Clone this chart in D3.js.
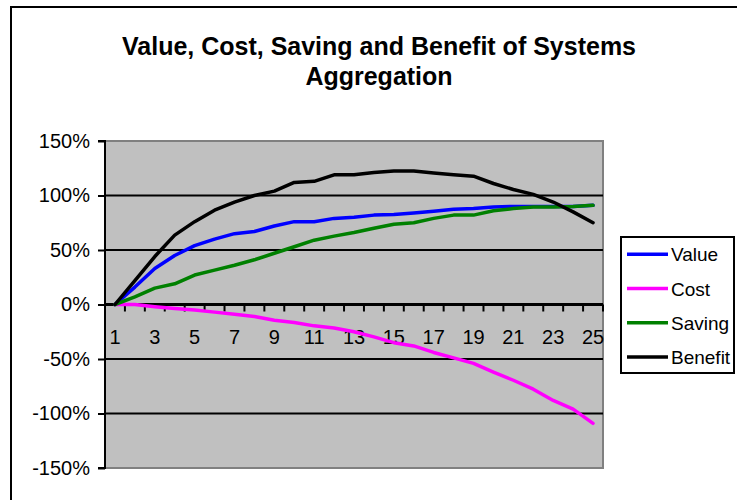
<!DOCTYPE html>
<html>
<head>
<meta charset="utf-8">
<script src="https://cdn.jsdelivr.net/npm/d3@7"></script>
<style>
  body { margin: 0; background: #fff; }
  svg { display: block; font-family: Arial, "Liberation Sans", sans-serif; }
</style>
</head>
<body>
<div id="chart"></div>
<script>
// data (fractions, 1.0 = 100%)
const periods = d3.range(1, 26);
const valueSeries = [0, 0.16, 0.33, 0.45, 0.54, 0.60, 0.65, 0.67, 0.72, 0.76, 0.76, 0.79, 0.80, 0.82, 0.825, 0.84, 0.856, 0.874, 0.88, 0.895, 0.90, 0.90, 0.90, 0.90, 0.91];
const costSeries = [0, 0, -0.02, -0.037, -0.05, -0.07, -0.09, -0.11, -0.144, -0.165, -0.196, -0.215, -0.25, -0.297, -0.35, -0.38, -0.44, -0.49, -0.54, -0.62, -0.695, -0.777, -0.88, -0.96, -1.09];
const savingSeries = [0, 0.07, 0.15, 0.19, 0.27, 0.315, 0.36, 0.41, 0.47, 0.53, 0.59, 0.627, 0.66, 0.70, 0.737, 0.75, 0.79, 0.82, 0.82, 0.86, 0.88, 0.895, 0.895, 0.90, 0.91];
const benefitSeries = [0, 0.22, 0.44, 0.636, 0.76, 0.865, 0.94, 1.00, 1.04, 1.12, 1.13, 1.19, 1.19, 1.21, 1.225, 1.225, 1.207, 1.19, 1.177, 1.11, 1.055, 1.01, 0.94, 0.85, 0.75];
const yTicks = [-1.5, -1, -0.5, 0, 0.5, 1, 1.5];
const xLabels = periods.filter(d => d % 2 === 1);

const series = [
  { name: 'Value', color: '#0000ff', values: valueSeries },
  { name: 'Cost', color: '#ff00ff', values: costSeries },
  { name: 'Saving', color: '#008000', values: savingSeries },
  { name: 'Benefit', color: '#000000', values: benefitSeries },
];

const width = 737;
const height = 500;
const plot = { left: 105, right: 603, top: 141, bottom: 468 };
const labelSize = 20;

const pct = d => `${Math.round(d * 100)}%`;

const svg = d3.select('#chart').append('svg')
  .attr('width', width)
  .attr('height', height);

// outer chart frame (only left/top edges fall inside the picture)
svg.append('rect')
  .attr('x', 11).attr('y', 7)
  .attr('width', 740).attr('height', 510)
  .attr('fill', '#fff')
  .attr('stroke', '#000')
  .attr('stroke-width', 2);

// title
const $title = svg.append('text')
  .attr('text-anchor', 'middle')
  .attr('font-weight', 'bold')
  .attr('font-size', 25);
$title.append('tspan').attr('x', 379).attr('y', 55).text('Value, Cost, Saving and Benefit of Systems');
$title.append('tspan').attr('x', 379).attr('y', 85).text('Aggregation');

// scales
const scaleX = d3.scaleBand().domain(periods).range([plot.left, plot.right]);
const scaleY = d3.scaleLinear().domain([-1.5, 1.5]).range([plot.bottom, plot.top]);
const cx = d => scaleX(d) + scaleX.bandwidth() / 2;

// plot area
svg.append('rect')
  .attr('x', plot.left).attr('y', plot.top)
  .attr('width', plot.right - plot.left)
  .attr('height', plot.bottom - plot.top)
  .attr('fill', '#c0c0c0')
  .attr('stroke', '#808080')
  .attr('stroke-width', 2);

// gridlines
svg.append('g').attr('class', 'grid')
  .selectAll('line')
  .data(yTicks.filter(d => d !== 0 && Math.abs(d) !== 1.5))
  .join('line')
  .attr('x1', plot.left).attr('x2', plot.right)
  .attr('y1', d => scaleY(d)).attr('y2', d => scaleY(d))
  .attr('stroke', '#000')
  .attr('stroke-width', 2);

// y axis
const yAxis = d3.axisLeft(scaleY)
  .tickValues(yTicks)
  .tickFormat(pct)
  .tickSize(7)
  .tickPadding(8);
const $yAxis = svg.append('g')
  .attr('transform', `translate(${plot.left},0)`)
  .call(yAxis);
$yAxis.select('.domain').attr('stroke', '#000').attr('stroke-width', 2).attr('d', `M-7,${plot.top}H0V${plot.bottom}H-7`);
$yAxis.selectAll('.tick line').attr('stroke', '#000').attr('stroke-width', 2);
$yAxis.selectAll('.tick text')
  .attr('font-size', labelSize)
  .attr('font-family', 'Arial, "Liberation Sans", sans-serif')
  .attr('fill', '#000');

// x axis at 0%
const zeroY = scaleY(0);
const $xAxis = svg.append('g').attr('class', 'x-axis');
$xAxis.append('line')
  .attr('x1', plot.left).attr('x2', plot.right)
  .attr('y1', zeroY).attr('y2', zeroY)
  .attr('stroke', '#000')
  .attr('stroke-width', 3);
$xAxis.selectAll('.xtick')
  .data(periods)
  .join('line')
  .attr('class', 'xtick')
  .attr('x1', d => scaleX(d) + scaleX.bandwidth())
  .attr('x2', d => scaleX(d) + scaleX.bandwidth())
  .attr('y1', zeroY).attr('y2', zeroY + 7)
  .attr('stroke', '#000')
  .attr('stroke-width', 2);
$xAxis.selectAll('.xlabel')
  .data(xLabels)
  .join('text')
  .attr('class', 'xlabel')
  .attr('x', cx)
  .attr('y', zeroY + 39)
  .attr('text-anchor', 'middle')
  .attr('font-size', labelSize)
  .text(d => d);

// lines
const line = d3.line()
  .x((d, i) => cx(periods[i]))
  .y(d => scaleY(d));

svg.append('g').attr('class', 'series')
  .selectAll('path')
  .data(series)
  .join('path')
  .attr('d', d => line(d.values))
  .attr('fill', 'none')
  .attr('stroke', d => d.color)
  .attr('stroke-width', 3.5)
  .attr('stroke-linejoin', 'round')
  .attr('stroke-linecap', 'round');

// legend
const $legend = svg.append('g').attr('class', 'legend');
$legend.append('rect')
  .attr('x', 621).attr('y', 237)
  .attr('width', 113).attr('height', 136)
  .attr('fill', '#fff')
  .attr('stroke', '#000')
  .attr('stroke-width', 2);
const $item = $legend.selectAll('.item')
  .data(series)
  .join('g')
  .attr('class', 'item')
  .attr('transform', (d, i) => `translate(0,${254.3 + i * 34.2})`);
$item.append('line')
  .attr('x1', 627).attr('x2', 668)
  .attr('stroke', d => d.color)
  .attr('stroke-width', 3.5);
$item.append('text')
  .attr('x', 671)
  .attr('y', 7)
  .attr('font-size', 19)
  .text(d => d.name);
</script>
</body>
</html>
